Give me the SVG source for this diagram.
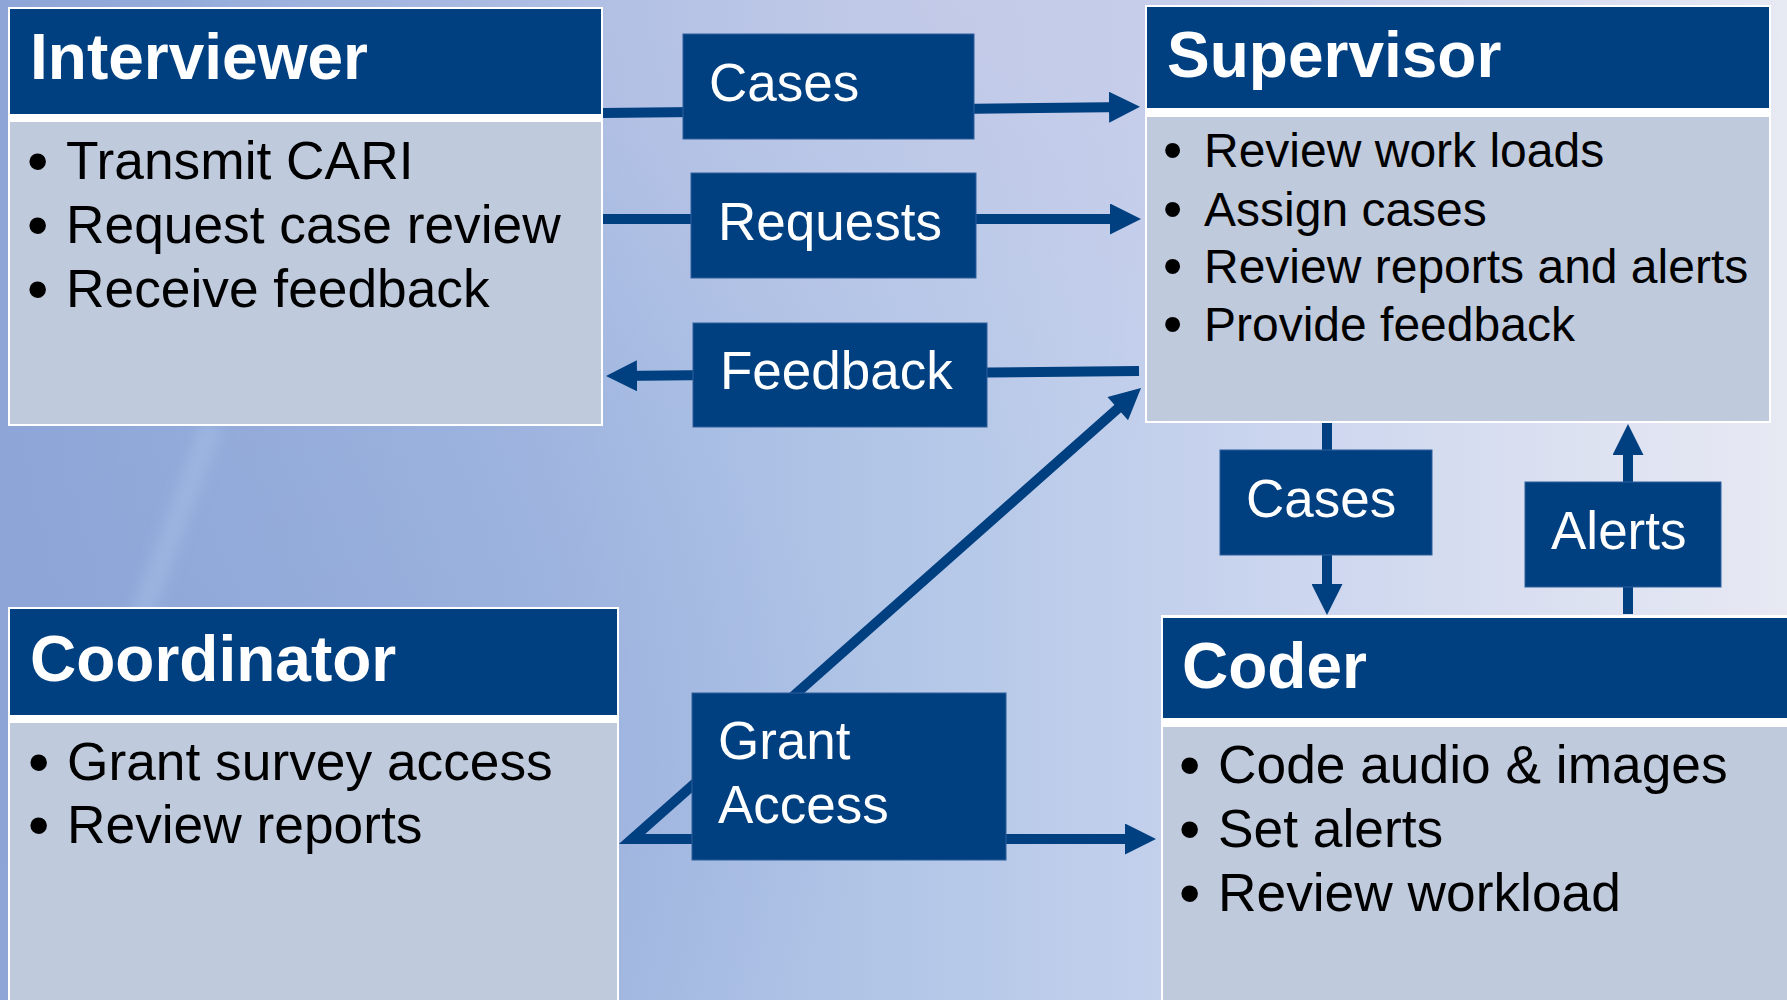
<svg xmlns="http://www.w3.org/2000/svg" width="1787" height="1000" viewBox="0 0 1787 1000">
  <defs>
    <linearGradient id="bg" x1="0" y1="0" x2="1" y2="0">
      <stop offset="0" stop-color="#8EA6D7"/>
      <stop offset="0.3" stop-color="#A0B6E0"/>
      <stop offset="0.5" stop-color="#B2C6E7"/>
      <stop offset="0.7" stop-color="#C9D4EE"/>
      <stop offset="0.88" stop-color="#DCE1F1"/>
      <stop offset="1" stop-color="#E7E9F3"/>
    </linearGradient>
    <radialGradient id="glowTop" cx="0.55" cy="0" r="0.45">
      <stop offset="0" stop-color="#C9CBE8" stop-opacity="0.7"/>
      <stop offset="1" stop-color="#C9CBE8" stop-opacity="0"/>
    </radialGradient>
    <radialGradient id="shadeLeft" cx="0" cy="0.75" r="0.5">
      <stop offset="0" stop-color="#8BA4D6" stop-opacity="0.6"/>
      <stop offset="1" stop-color="#8BA4D6" stop-opacity="0"/>
    </radialGradient>
    <filter id="soft" x="-50%" y="-50%" width="200%" height="200%">
      <feGaussianBlur stdDeviation="7"/>
    </filter>
    <marker id="arrow" markerUnits="userSpaceOnUse" markerWidth="31" markerHeight="31"
            viewBox="0 0 31 31" refX="20" refY="15.5" orient="auto">
      <path d="M0,0 L31,15.5 L0,31 Z" fill="#003F80"/>
    </marker>
    <style>
      .frame { fill: #FFFFFF; }
      .head { fill: #003F80; }
      .body { fill: #BFCADC; }
      .title { font-family: "Liberation Sans", Arial, sans-serif; font-weight: bold; font-size: 64px; fill: #FFFFFF; }
      .item { font-family: "Liberation Sans", Arial, sans-serif; font-size: 53.3px; fill: #000000; }
      .item.small { font-size: 48px; }
      .dot { font-family: "Liberation Sans", Arial, sans-serif; font-size: 61px; fill: #000000; }
      .dot.small { font-size: 55px; }
      .tag { fill: #003F80; stroke: #2E5E9C; stroke-width: 1; }
      .tagtext { font-family: "Liberation Sans", Arial, sans-serif; font-size: 53px; fill: #FFFFFF; }
      .link { fill: none; stroke: #003F80; stroke-width: 10; stroke-linejoin: miter; }
    </style>
  </defs>

  <!-- background -->
  <rect x="0" y="0" width="1787" height="1000" fill="url(#bg)"/>
  <rect x="0" y="0" width="1787" height="1000" fill="url(#glowTop)"/>
  <rect x="0" y="0" width="1787" height="1000" fill="url(#shadeLeft)"/>
  <path d="M212,425 L140,620" stroke="#A9C6E8" stroke-width="20" stroke-opacity="0.45" filter="url(#soft)"/>

  <!-- connectors -->
  <g id="connectors">
    <path class="link" d="M603,113 L1129,107" marker-end="url(#arrow)"/>
    <path class="link" d="M601,219 L1130,219" marker-end="url(#arrow)"/>
    <path class="link" d="M1139,371 L617,376" marker-end="url(#arrow)"/>
    <path class="link" d="M1132.8,395.3 L632,839 L1145,839" marker-end="url(#arrow)"/>
    <path class="link" d="M1327,418 L1327,604" marker-end="url(#arrow)"/>
    <path class="link" d="M1628,614 L1628,435" marker-end="url(#arrow)"/>
    <!-- arrowhead at the Supervisor end of the diagonal -->
    <path d="M0,0 L31,15.5 L0,31 Z" fill="#003F80" transform="translate(1141,388) rotate(-41.5) translate(-31,-15.5)"/>
  </g>

  <!-- Interviewer -->
  <g id="interviewer">
    <rect class="frame" x="8" y="7" width="595" height="419"/>
    <rect class="head" x="10" y="9" width="591" height="105"/>
    <rect class="body" x="10" y="122" width="591" height="302"/>
    <text class="title" x="30" y="79">Interviewer</text>
    <text class="dot" x="27" y="182">•</text>
    <text class="item" x="66" y="179">Transmit CARI</text>
    <text class="dot" x="27" y="246">•</text>
    <text class="item" x="66" y="243">Request case review</text>
    <text class="dot" x="27" y="310">•</text>
    <text class="item" x="66" y="307">Receive feedback</text>
  </g>

  <!-- Supervisor -->
  <g id="supervisor">
    <rect class="frame" x="1145" y="5" width="626" height="418"/>
    <rect class="head" x="1147" y="7" width="622" height="101"/>
    <rect class="body" x="1147" y="117" width="622" height="304"/>
    <text class="title" x="1167" y="77">Supervisor</text>
    <text class="dot small" x="1163" y="169">•</text>
    <text class="item small" x="1204" y="167">Review work loads</text>
    <text class="dot small" x="1163" y="228">•</text>
    <text class="item small" x="1204" y="226">Assign cases</text>
    <text class="dot small" x="1163" y="285">•</text>
    <text class="item small" x="1204" y="283">Review reports and alerts</text>
    <text class="dot small" x="1163" y="343">•</text>
    <text class="item small" x="1204" y="341">Provide feedback</text>
  </g>

  <!-- Coordinator -->
  <g id="coordinator">
    <rect class="frame" x="8" y="607" width="611" height="400"/>
    <rect class="head" x="10" y="609" width="607" height="106"/>
    <rect class="body" x="10" y="723" width="607" height="290"/>
    <text class="title" x="30" y="681">Coordinator</text>
    <text class="dot" x="28" y="783">•</text>
    <text class="item" x="67" y="780">Grant survey access</text>
    <text class="dot" x="28" y="846">•</text>
    <text class="item" x="67" y="843">Review reports</text>
  </g>

  <!-- Coder -->
  <g id="coder">
    <rect class="frame" x="1161" y="615" width="640" height="400"/>
    <rect class="head" x="1163" y="618" width="640" height="100"/>
    <rect class="body" x="1163" y="727" width="640" height="290"/>
    <text class="title" x="1182" y="688">Coder</text>
    <text class="dot" x="1179" y="786">•</text>
    <text class="item" x="1218" y="783">Code audio &amp; images</text>
    <text class="dot" x="1179" y="850">•</text>
    <text class="item" x="1218" y="847">Set alerts</text>
    <text class="dot" x="1179" y="914">•</text>
    <text class="item" x="1218" y="911">Review workload</text>
  </g>

  <!-- flow labels -->
  <g id="label-cases-top">
    <rect class="tag" x="683" y="34" width="291" height="105"/>
    <text class="tagtext" x="709" y="101">Cases</text>
  </g>
  <g id="label-requests">
    <rect class="tag" x="691" y="173" width="285" height="105"/>
    <text class="tagtext" x="718" y="240">Requests</text>
  </g>
  <g id="label-feedback">
    <rect class="tag" x="693" y="323" width="294" height="104"/>
    <text class="tagtext" x="720" y="389">Feedback</text>
  </g>
  <g id="label-grant-access">
    <rect class="tag" x="692" y="693" width="314" height="167"/>
    <text class="tagtext" x="718" y="759">Grant</text>
    <text class="tagtext" x="718" y="823">Access</text>
  </g>
  <g id="label-cases-down">
    <rect class="tag" x="1220" y="450" width="212" height="105"/>
    <text class="tagtext" x="1246" y="517">Cases</text>
  </g>
  <g id="label-alerts">
    <rect class="tag" x="1525" y="482" width="196" height="105"/>
    <text class="tagtext" x="1551" y="549">Alerts</text>
  </g>
</svg>
